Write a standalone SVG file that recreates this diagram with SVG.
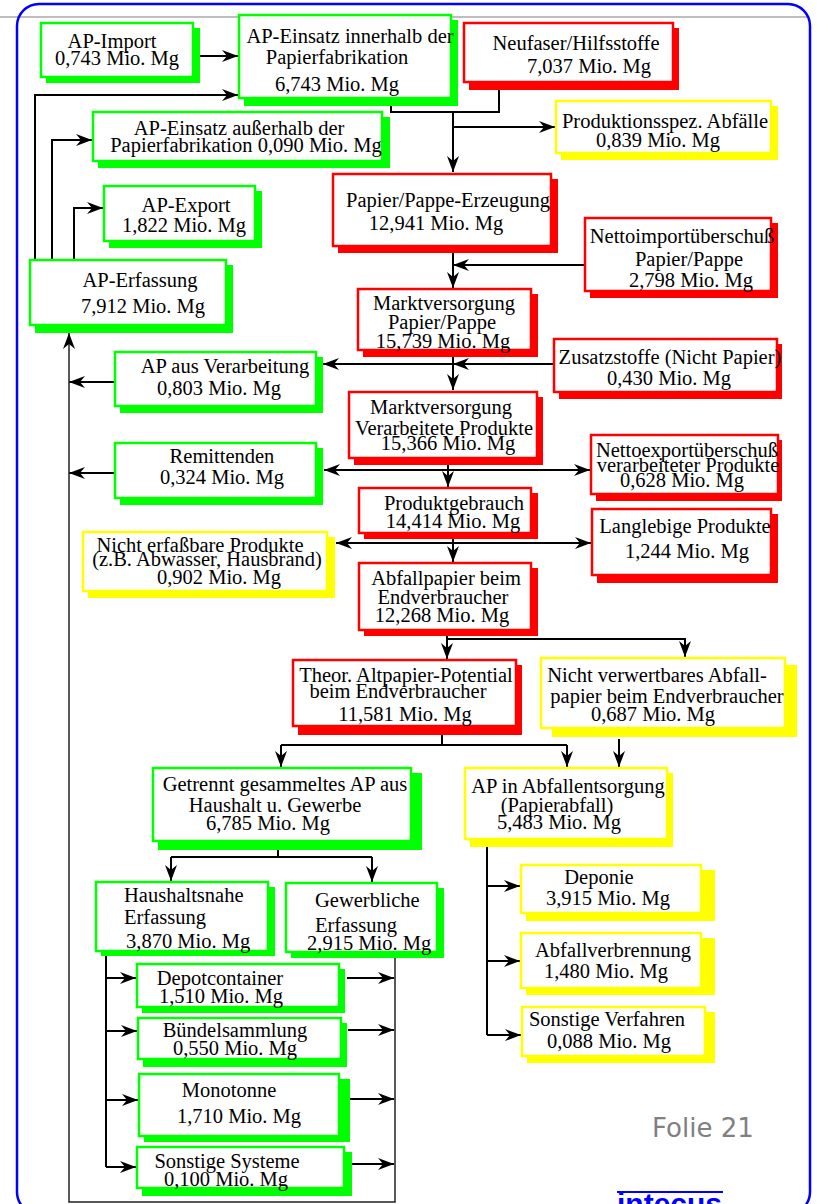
<svg xmlns="http://www.w3.org/2000/svg" width="817" height="1204" viewBox="0 0 817 1204">
  <style>
    .b { fill: #ffffff; stroke-width: 2.5; }
    .g .b { stroke: #00ff00; } .g .s { fill: #00ff00; }
    .r .b { stroke: #ff0000; } .r .s { fill: #ff0000; }
    .y .b { stroke: #ffff00; } .y .s { fill: #ffff00; }
    text { font-family: "Liberation Serif", "Times New Roman", serif; font-size: 20.5px; fill: #000; text-anchor: middle; }
    text.l { text-anchor: start; }
    #edges path { fill: none; stroke: #000; stroke-width: 2; }
    #edges path.a { marker-end: url(#arr); }
    #edges path.thin { stroke-width: 1.5; stroke: #222; }
  </style>
  <defs>
    <marker id="arr" markerUnits="userSpaceOnUse" markerWidth="17" markerHeight="13" refX="16" refY="6.5" orient="auto">
      <path d="M0,0.5 L16,6.5 L0,12.5 L5,6.5 Z" fill="#000"/>
    </marker>
  </defs>

  <rect x="0" y="0" width="817" height="1204" fill="#ffffff"/>
  <!-- slide frame -->
  <line x1="0" y1="17" x2="808" y2="17" stroke="#a8a8a8" stroke-width="1.5"/>
  <rect x="17" y="4" width="793" height="1210" rx="22" ry="22" fill="none" stroke="#0000ff" stroke-width="2.5"/>

  <!-- connectors -->
  <g id="edges">
    <path class="a" d="M200,56 H238"/>
    <path class="a" d="M35,259 V95 H238"/>
    <path class="a" d="M52,259 V140 H92"/>
    <path class="a" d="M74,259 V208 H103"/>
    <path d="M391,106 V112 H499 V90"/>
    <path class="a" d="M453,112 V172"/>
    <path class="a" d="M453,127 H555"/>
    <path class="a" d="M453,253 V288"/>
    <path class="a" d="M584,265 H453"/>
    <path class="a" d="M453,357 V390"/>
    <path class="a" d="M553,364 H453"/>
    <path class="a" d="M453,364 H323"/>
    <path class="a" d="M114,382 H69"/>
    <path class="a" d="M448,465 V487"/>
    <path class="a" d="M448,470 H324"/>
    <path class="a" d="M448,470 H590"/>
    <path class="a" d="M114,473 H69"/>
    <path class="a" d="M453,539 V562"/>
    <path class="a" d="M453,543 H336"/>
    <path class="a" d="M453,543 H591"/>
    <path class="a" d="M447,636 V659"/>
    <path class="a" d="M447,639 H685 V657"/>
    <path d="M442,735 V745 M281,745 H567"/>
    <path class="a" d="M281,745 V767"/>
    <path class="a" d="M567,745 V767"/>
    <path class="a" d="M619,739 V767"/>
    <path d="M278,850 V857 M171,857 H372"/>
    <path class="a" d="M171,857 V881"/>
    <path class="a" d="M372,857 V882"/>
    <path d="M487,847 V1035"/>
    <path class="a" d="M487,886 H520"/>
    <path class="a" d="M487,961 H520"/>
    <path class="a" d="M487,1035 H521"/>
    <path d="M106,956 V1167"/>
    <path class="a" d="M106,978 H136"/>
    <path class="a" d="M106,1031 H137"/>
    <path class="a" d="M106,1100 H138"/>
    <path class="a" d="M106,1167 H136"/>
    <path class="a" d="M347,978 H394"/>
    <path class="a" d="M348,1030 H394"/>
    <path class="a" d="M350,1099 H394"/>
    <path class="a" d="M352,1164 H394"/>
    <path class="a thin" d="M395,958 V1202 H69 V333"/>
  </g>

  <!-- nodes -->
  <g id="ap-import" class="g">
    <rect class="s" x="46" y="28" width="154" height="55"/>
    <rect class="b" x="41" y="23" width="152" height="54"/>
    <text x="112" y="48">AP-Import</text>
    <text x="117" y="65">0,743 Mio. Mg</text>
  </g>
  <g id="ap-einsatz-innerhalb" class="g">
    <rect class="s" x="244" y="20" width="214" height="86"/>
    <rect class="b" x="239" y="15" width="212" height="83"/>
    <text x="350" y="43">AP-Einsatz innerhalb der</text>
    <text x="337" y="64">Papierfabrikation</text>
    <text x="337" y="91">6,743 Mio. Mg</text>
  </g>
  <g id="neufaser" class="r">
    <rect class="s" x="469" y="28" width="210" height="62"/>
    <rect class="b" x="464" y="23" width="209" height="59"/>
    <text x="576" y="50">Neufaser/Hilfsstoffe</text>
    <text x="589" y="73">7,037 Mio. Mg</text>
  </g>
  <g id="produktionsabfaelle" class="y">
    <rect class="s" x="561" y="106" width="217" height="54"/>
    <rect class="b" x="556" y="101" width="215" height="52"/>
    <text x="665" y="128">Produktionsspez. Abfälle</text>
    <text x="658" y="147">0,839 Mio. Mg</text>
  </g>
  <g id="ap-einsatz-ausserhalb" class="g">
    <rect class="s" x="98" y="117" width="292" height="51"/>
    <rect class="b" x="93" y="112" width="289" height="49"/>
    <text x="239" y="135">AP-Einsatz außerhalb der</text>
    <text x="246" y="152">Papierfabrikation 0,090 Mio. Mg</text>
  </g>
  <g id="ap-export" class="g">
    <rect class="s" x="109" y="191" width="153" height="57"/>
    <rect class="b" x="104" y="186" width="151" height="55"/>
    <text x="186" y="212">AP-Export</text>
    <text x="184" y="232">1,822 Mio. Mg</text>
  </g>
  <g id="papier-erzeugung" class="r">
    <rect class="s" x="338" y="179" width="220" height="74"/>
    <rect class="b" x="333" y="174" width="218" height="72"/>
    <text x="448" y="207">Papier/Pappe-Erzeugung</text>
    <text x="436" y="230">12,941 Mio. Mg</text>
  </g>
  <g id="nettoimport" class="r">
    <rect class="s" x="590" y="223" width="188" height="75"/>
    <rect class="b" x="585" y="218" width="186" height="73"/>
    <text x="682" y="243">Nettoimportüberschuß</text>
    <text x="689" y="266">Papier/Pappe</text>
    <text x="691" y="287">2,798 Mio. Mg</text>
  </g>
  <g id="ap-erfassung" class="g">
    <rect class="s" x="35" y="265" width="198" height="68"/>
    <rect class="b" x="30" y="260" width="196" height="65"/>
    <text x="140" y="287">AP-Erfassung</text>
    <text x="143" y="313">7,912 Mio. Mg</text>
  </g>
  <g id="marktversorgung-papier" class="r">
    <rect class="s" x="363" y="294" width="175" height="63"/>
    <rect class="b" x="358" y="289" width="173" height="61"/>
    <text x="444" y="310">Marktversorgung</text>
    <text x="442" y="329">Papier/Pappe</text>
    <text x="443" y="348">15,739 Mio. Mg</text>
  </g>
  <g id="zusatzstoffe" class="r">
    <rect class="s" x="559" y="344" width="223" height="55"/>
    <rect class="b" x="554" y="339" width="223" height="53"/>
    <text x="670" y="364">Zusatzstoffe (Nicht Papier)</text>
    <text x="669" y="385">0,430 Mio. Mg</text>
  </g>
  <g id="ap-verarbeitung" class="g">
    <rect class="s" x="120" y="357" width="203" height="56"/>
    <rect class="b" x="115" y="352" width="201" height="54"/>
    <text x="225" y="373">AP aus Verarbeitung</text>
    <text x="219" y="395">0,803 Mio. Mg</text>
  </g>
  <g id="marktversorgung-produkte" class="r">
    <rect class="s" x="354" y="397" width="189" height="68"/>
    <rect class="b" x="349" y="392" width="188" height="66"/>
    <text x="441" y="414">Marktversorgung</text>
    <text x="444" y="435">Verarbeitete Produkte</text>
    <text x="448" y="450">15,366 Mio. Mg</text>
  </g>
  <g id="remittenden" class="g">
    <rect class="s" x="120" y="448" width="203" height="57"/>
    <rect class="b" x="115" y="443" width="201" height="55"/>
    <text x="222" y="463">Remittenden</text>
    <text x="222" y="484">0,324 Mio. Mg</text>
  </g>
  <g id="nettoexport" class="r">
    <rect class="s" x="596" y="440" width="186" height="61"/>
    <rect class="b" x="591" y="435" width="187" height="59"/>
    <text x="687" y="457">Nettoexportüberschuß</text>
    <text x="688" y="472">verarbeiteter Produkte</text>
    <text x="682" y="487">0,628 Mio. Mg</text>
  </g>
  <g id="produktgebrauch" class="r">
    <rect class="s" x="364" y="493" width="174" height="46"/>
    <rect class="b" x="359" y="488" width="172" height="45"/>
    <text x="454" y="510">Produktgebrauch</text>
    <text x="453" y="528">14,414 Mio. Mg</text>
  </g>
  <g id="nicht-erfassbar" class="y">
    <rect class="s" x="88" y="537" width="247" height="61"/>
    <rect class="b" x="83" y="532" width="244" height="59"/>
    <text x="200" y="552">Nicht erfaßbare Produkte</text>
    <text x="207" y="566">(z.B. Abwasser, Hausbrand)</text>
    <text x="219" y="584">0,902 Mio. Mg</text>
  </g>
  <g id="langlebige" class="r">
    <rect class="s" x="597" y="514" width="181" height="69"/>
    <rect class="b" x="592" y="509" width="179" height="66"/>
    <text x="685" y="533">Langlebige Produkte</text>
    <text x="687" y="558">1,244 Mio. Mg</text>
  </g>
  <g id="abfallpapier" class="r">
    <rect class="s" x="364" y="568" width="174" height="68"/>
    <rect class="b" x="359" y="563" width="172" height="67"/>
    <text x="446" y="585">Abfallpapier beim</text>
    <text x="443" y="604">Endverbraucher</text>
    <text x="442" y="622">12,268 Mio. Mg</text>
  </g>
  <g id="theor-potential" class="r">
    <rect class="s" x="298" y="665" width="224" height="70"/>
    <rect class="b" x="293" y="660" width="223" height="66"/>
    <text x="406" y="682">Theor. Altpapier-Potential</text>
    <text x="398" y="698">beim Endverbraucher</text>
    <text x="405" y="721">11,581 Mio. Mg</text>
  </g>
  <g id="nicht-verwertbar" class="y">
    <rect class="s" x="552" y="665" width="245" height="72"/>
    <rect class="b" x="541" y="658" width="244" height="70"/>
    <text x="657" y="682">Nicht verwertbares Abfall-</text>
    <text x="667" y="703">papier beim Endverbraucher</text>
    <text x="653" y="721">0,687 Mio. Mg</text>
  </g>
  <g id="getrennt" class="g">
    <rect class="s" x="158" y="773" width="264" height="77"/>
    <rect class="b" x="153" y="768" width="258" height="73"/>
    <text x="285" y="791">Getrennt gesammeltes AP aus</text>
    <text x="275" y="812">Haushalt u. Gewerbe</text>
    <text x="268" y="830">6,785 Mio. Mg</text>
  </g>
  <g id="abfallentsorgung" class="y">
    <rect class="s" x="470" y="773" width="203" height="74"/>
    <rect class="b" x="465" y="768" width="202" height="71"/>
    <text x="568" y="793">AP in Abfallentsorgung</text>
    <text x="557" y="812">(Papierabfall)</text>
    <text x="559" y="829">5,483 Mio. Mg</text>
  </g>
  <g id="haushaltsnah" class="g">
    <rect class="s" x="101" y="887" width="174" height="69"/>
    <rect class="b" x="96" y="882" width="172" height="69"/>
    <text class="l" x="124" y="902">Haushaltsnahe</text>
    <text class="l" x="124" y="924">Erfassung</text>
    <text class="l" x="126" y="948">3,870 Mio. Mg</text>
  </g>
  <g id="gewerblich" class="g">
    <rect class="s" x="291" y="888" width="153" height="70"/>
    <rect class="b" x="286" y="883" width="151" height="69"/>
    <text class="l" x="315" y="907">Gewerbliche</text>
    <text class="l" x="315" y="932">Erfassung</text>
    <text class="l" x="307" y="950">2,915 Mio. Mg</text>
  </g>
  <g id="deponie" class="y">
    <rect class="s" x="526" y="870" width="189" height="51"/>
    <rect class="b" x="521" y="865" width="180" height="48"/>
    <text x="599" y="884">Deponie</text>
    <text x="608" y="905">3,915 Mio. Mg</text>
  </g>
  <g id="verbrennung" class="y">
    <rect class="s" x="526" y="938" width="189" height="57"/>
    <rect class="b" x="521" y="933" width="180" height="55"/>
    <text x="613" y="957">Abfallverbrennung</text>
    <text x="606" y="978">1,480 Mio. Mg</text>
  </g>
  <g id="sonstige-verfahren" class="y">
    <rect class="s" x="527" y="1012" width="188" height="51"/>
    <rect class="b" x="522" y="1007" width="183" height="49"/>
    <text x="607" y="1026">Sonstige Verfahren</text>
    <text x="609" y="1048">0,088 Mio. Mg</text>
  </g>
  <g id="depotcontainer" class="g">
    <rect class="s" x="142" y="969" width="203" height="44"/>
    <rect class="b" x="137" y="964" width="202" height="43"/>
    <text x="220" y="985">Depotcontainer</text>
    <text x="221" y="1003">1,510 Mio. Mg</text>
  </g>
  <g id="buendelsammlung" class="g">
    <rect class="s" x="143" y="1023" width="204" height="44"/>
    <rect class="b" x="138" y="1018" width="203" height="41"/>
    <text x="235" y="1037">Bündelsammlung</text>
    <text x="235" y="1055">0,550 Mio. Mg</text>
  </g>
  <g id="monotonne" class="g">
    <rect class="s" x="144" y="1079" width="206" height="63"/>
    <rect class="b" x="139" y="1074" width="200" height="62"/>
    <text x="229" y="1097">Monotonne</text>
    <text x="239" y="1123">1,710 Mio. Mg</text>
  </g>
  <g id="sonstige-systeme" class="g">
    <rect class="s" x="142" y="1152" width="210" height="44"/>
    <rect class="b" x="137" y="1147" width="207" height="41"/>
    <text x="227" y="1168">Sonstige Systeme</text>
    <text x="226" y="1186">0,100 Mio. Mg</text>
  </g>

  <!-- slide footer -->
  <text x="652" y="1137" style="font-family: 'DejaVu Sans', sans-serif; font-size: 26px; fill: #808080; text-anchor: start;">Folie 21</text>
  <text x="617" y="1214" style="font-family: 'Liberation Sans', Arial, sans-serif; font-size: 30px; font-weight: bold; fill: #0000ff; text-anchor: start;">intecus</text>
  <line x1="617" y1="1192" x2="723" y2="1192" stroke="#0000ff" stroke-width="2"/>
</svg>
